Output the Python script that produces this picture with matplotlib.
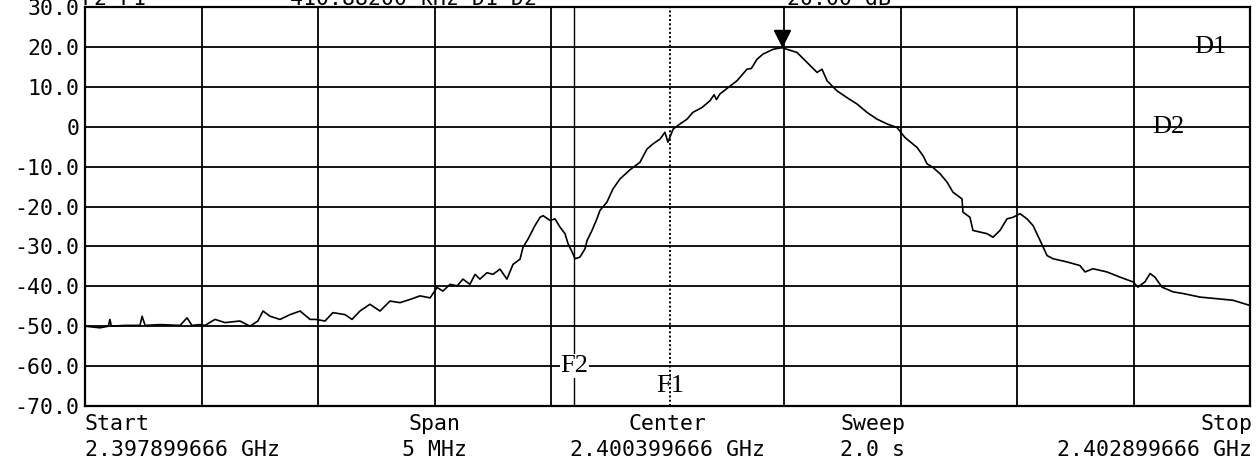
import numpy as np
from matplotlib import pyplot as plt
from matplotlib import transforms

# analyzer settings
start_ghz = 2.397899666
span_mhz = 5
sweep_s = 2.0
f1_mhz = 2.511          # F1 marker, measured from start
f2_f1_khz = -410.882    # F2 relative to F1
d1_db = 20.0
d2_db = 0.0

# trace, frequency measured from start (MHz) and level (dB)
freq_mhz = [
    0.000, 0.030, 0.064, 0.100, 0.107, 0.113, 0.172, 0.236, 0.245, 0.258,
    0.322, 0.408, 0.438, 0.459, 0.494, 0.515, 0.558, 0.601, 0.665, 0.708,
    0.742, 0.764, 0.794, 0.837, 0.880, 0.923, 0.966, 0.991, 1.030, 1.064,
    1.116, 1.146, 1.180, 1.223, 1.266, 1.309, 1.352, 1.395, 1.438, 1.481,
    1.511, 1.536, 1.567, 1.597, 1.622, 1.652, 1.674, 1.695, 1.725, 1.751,
    1.781, 1.811, 1.837, 1.867, 1.880, 1.901, 1.931, 1.953, 1.966, 1.996,
    2.017, 2.039, 2.060, 2.073, 2.094, 2.103, 2.124, 2.146, 2.155, 2.176,
    2.197, 2.210, 2.240, 2.266, 2.296, 2.339, 2.382, 2.412, 2.438, 2.468,
    2.489, 2.502, 2.524, 2.554, 2.584, 2.609, 2.648, 2.682, 2.700, 2.710,
    2.725, 2.760, 2.798, 2.841, 2.860, 2.884, 2.910, 2.953, 2.991, 3.013,
    3.056, 3.099, 3.142, 3.163, 3.185, 3.227, 3.270, 3.313, 3.356, 3.399,
    3.442, 3.485, 3.519, 3.571, 3.597, 3.614, 3.639, 3.670, 3.700, 3.725,
    3.764, 3.768, 3.798, 3.811, 3.841, 3.871, 3.897, 3.927, 3.957, 3.983,
    4.013, 4.043, 4.069, 4.099, 4.129, 4.155, 4.215, 4.270, 4.292, 4.326,
    4.386, 4.442, 4.498, 4.519, 4.549, 4.571, 4.592, 4.622, 4.670, 4.712,
    4.785, 4.858, 4.927, 5.000,
]
level_db = [
    -50.0, -50.2, -50.4, -50.0, -48.3, -50.0, -49.8, -49.8, -47.5, -49.8,
    -49.6, -49.8, -47.9, -49.8, -49.6, -49.8, -48.3, -49.1, -48.7, -50.0,
    -48.7, -46.2, -47.5, -48.3, -47.1, -46.2, -48.3, -48.3, -48.7, -46.6,
    -47.1, -48.3, -46.2, -44.5, -46.2, -43.7, -44.1, -43.3, -42.4, -42.9,
    -40.3, -41.2, -39.5, -39.9, -38.2, -39.5, -37.0, -38.2, -36.6, -37.0,
    -35.7, -38.2, -34.5, -33.2, -30.2, -28.2, -24.8, -22.7, -22.3, -23.5,
    -23.1, -25.2, -26.8, -29.3, -31.8, -33.1, -32.7, -30.6, -28.5, -26.0,
    -23.1, -21.0, -18.9, -15.6, -13.1, -10.8, -8.9, -5.6, -4.3, -3.1,
    -1.4, -3.9, -0.6, 0.7, 1.9, 3.6, 4.8, 6.5, 8.0, 6.8,
    8.2, 9.8, 11.5, 14.4, 14.6, 16.9, 18.2, 19.4, 19.8, 19.4,
    18.6, 16.1, 13.6, 14.4, 11.5, 9.0, 7.3, 5.7, 3.6, 1.9,
    0.7, -0.2, -2.7, -5.2, -7.3, -9.3, -10.2, -11.8, -13.9, -16.4,
    -18.1, -21.4, -22.7, -26.0, -26.4, -26.8, -27.7, -26.0, -23.1, -22.7,
    -21.8, -23.1, -24.8, -28.5, -32.3, -33.1, -33.9, -34.8, -36.4, -35.6,
    -36.4, -37.7, -38.9, -40.2, -38.9, -36.8, -37.7, -40.2, -41.4, -41.8,
    -42.7, -43.1, -43.5, -44.8,
]

y_ticks = [30, 20, 10, 0, -10, -20, -30, -40, -50, -60, -70]
y_labels = ['30.0', '20.0', '10.0', '0', '-10.0', '-20.0', '-30.0',
            '-40.0', '-50.0', '-60.0', '-70.0']

W, H = 1257, 461
MONO = 'DejaVu Sans Mono'
SERIF = 'Liberation Serif'
FS = 15.5


def px(x, y):
    return x / W, 1 - y / H


fig = plt.figure(figsize=(W / 100, H / 100), dpi=100)
ax = fig.add_axes([85 / W, 55 / H, 1165 / W, 399 / H])
ax.set_xlim(0, span_mhz)
ax.set_ylim(-70, 30)

# graticule (centre column is taken by the F1 line)
for x in np.arange(0.5, span_mhz, 0.5):
    if abs(x - span_mhz / 2) > 1e-6:
        ax.axvline(x, color='k', lw=1.3, zorder=1)
for y in y_ticks[1:-1]:
    ax.axhline(y, color='k', lw=1.3, zorder=1)
for s in ax.spines.values():
    s.set_linewidth(1.6)

ax.set_xticks([])
ax.set_yticks(y_ticks)
ax.set_yticklabels(y_labels, family=MONO, fontsize=FS)
ax.tick_params(axis='y', length=0, pad=4)

ax.plot(freq_mhz, level_db, color='k', lw=1.2, zorder=3)

# peak marker
i = int(np.argmax(level_db))
lift = transforms.ScaledTranslation(0, 7 / 72, fig.dpi_scale_trans)
ax.plot(freq_mhz[i], level_db[i], marker='v', ms=12, color='k',
        transform=ax.transData + lift, clip_on=False, zorder=4)

# frequency markers
f2_mhz = f1_mhz + f2_f1_khz / 1000
ax.axvline(f1_mhz, color='k', lw=1.4, ls=(0, (1, 1.2)), zorder=5)
ax.axvline(f2_mhz, color='k', lw=1.0, zorder=2)
ax.text(f2_mhz, -60, 'F2', family=SERIF, fontsize=19, ha='center',
        va='center', zorder=3,
        bbox=dict(fc='white', ec='none', pad=0.5))
ax.text(f1_mhz, -65, 'F1', family=SERIF, fontsize=19, ha='center',
        va='center', zorder=3)

# display line labels
ax.text(4.828, d1_db, 'D1', family=SERIF, fontsize=19, ha='center',
        va='center', zorder=3)
ax.text(4.648, d2_db, 'D2', family=SERIF, fontsize=19, ha='center',
        va='center', zorder=3)

# readout line above the graticule
fig.text(*px(82, 5), 'F2-F1', family=MONO, fontsize=FS, va='baseline')
fig.text(*px(277, 5), f'{f2_f1_khz:.5f} kHz D1-D2', family=MONO,
         fontsize=FS, va='baseline')
fig.text(*px(787, 5), f'{d1_db - d2_db:.2f} dB', family=MONO,
         fontsize=FS, va='baseline')

# sweep settings below the graticule
stop_ghz = start_ghz + span_mhz / 1000
center_ghz = start_ghz + span_mhz / 2000
rows = [
    (85, 'left', 'Start', f'{start_ghz:.9f} GHz'),
    (434, 'center', 'Span', f'{span_mhz} MHz'),
    (668, 'center', 'Center', f'{center_ghz:.9f} GHz'),
    (840, 'left', 'Sweep', f'{sweep_s:.1f} s'),
    (1252, 'right', 'Stop', f'{stop_ghz:.9f} GHz'),
]
for x, ha, top, bottom in rows:
    fig.text(*px(x, 430), top, family=MONO, fontsize=FS, ha=ha,
             va='baseline')
    fig.text(*px(x, 456), bottom, family=MONO, fontsize=FS, ha=ha,
             va='baseline')

fig.savefig('out.png', dpi=100)
